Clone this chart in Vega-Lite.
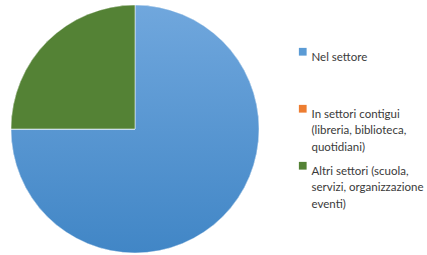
{
  "$schema": "https://vega.github.io/schema/vega-lite/v6.json",
  "width": 270,
  "height": 254,
  "padding": {"left": 0, "top": 2, "right": 0, "bottom": 0},
  "background": "white",
  "view": {"stroke": null},
  "data": {"values": [
    {"categoria": "Nel settore", "valore": 75, "ordine": 1},
    {"categoria": "In settori contigui (libreria, biblioteca, quotidiani)", "valore": 0, "ordine": 2},
    {"categoria": "Altri settori (scuola, servizi, organizzazione eventi)", "valore": 25, "ordine": 3}
  ]},
  "encoding": {
    "theta": {"field": "valore", "type": "quantitative", "stack": true},
    "order": {"field": "ordine", "type": "quantitative"}
  },
  "layer": [
    {
      "mark": {"type": "arc", "outerRadius": 124},
      "encoding": {
        "color": {
          "field": "categoria", "type": "nominal",
          "sort": ["Nel settore", "In settori contigui (libreria, biblioteca, quotidiani)", "Altri settori (scuola, servizi, organizzazione eventi)"],
          "scale": {
            "domain": ["Nel settore", "In settori contigui (libreria, biblioteca, quotidiani)", "Altri settori (scuola, servizi, organizzazione eventi)"],
            "range": ["#5b9bd5", "#ed7d31", "#548235"]
          },
          "legend": {
            "title": null,
            "orient": "none",
            "legendX": 297,
            "legendY": 44,
            "padding": 0,
            "symbolType": "square",
            "symbolSize": 60,
            "symbolStrokeWidth": 0,
            "labelFont": "Lato",
            "labelFontSize": 11.5,
            "labelColor": "#3a3a3a",
            "labelOffset": 3,
            "labelLimit": 200,
            "labelBaseline": "top",
            "rowPadding": 6,
            "labelExpr": "datum.label == 'Nel settore' ? ['Nel settore', '', ''] : (indexof(datum.label, 'contigui') >= 0 ? ['In settori contigui', '(libreria, biblioteca,', 'quotidiani)'] : ['Altri settori (scuola,', 'servizi, organizzazione', 'eventi)'])",
            "encode": {"labels": {"update": {"lineHeight": {"value": 16.5}}}}
          }
        }
      }
    },
    {
      "mark": {"type": "arc", "outerRadius": 124, "stroke": "white", "strokeWidth": 0.5},
      "encoding": {
        "fill": {
          "condition": [
            {"test": "datum.ordine == 1", "value": {"gradient": "linear", "x1": 0, "y1": 0, "x2": 0, "y2": 1, "stops": [{"offset": 0, "color": "#70a7dd"}, {"offset": 1, "color": "#4186c6"}]}},
            {"test": "datum.ordine == 2", "value": "#ed7d31"}
          ],
          "value": "#548235"
        }
      }
    }
  ]
}
